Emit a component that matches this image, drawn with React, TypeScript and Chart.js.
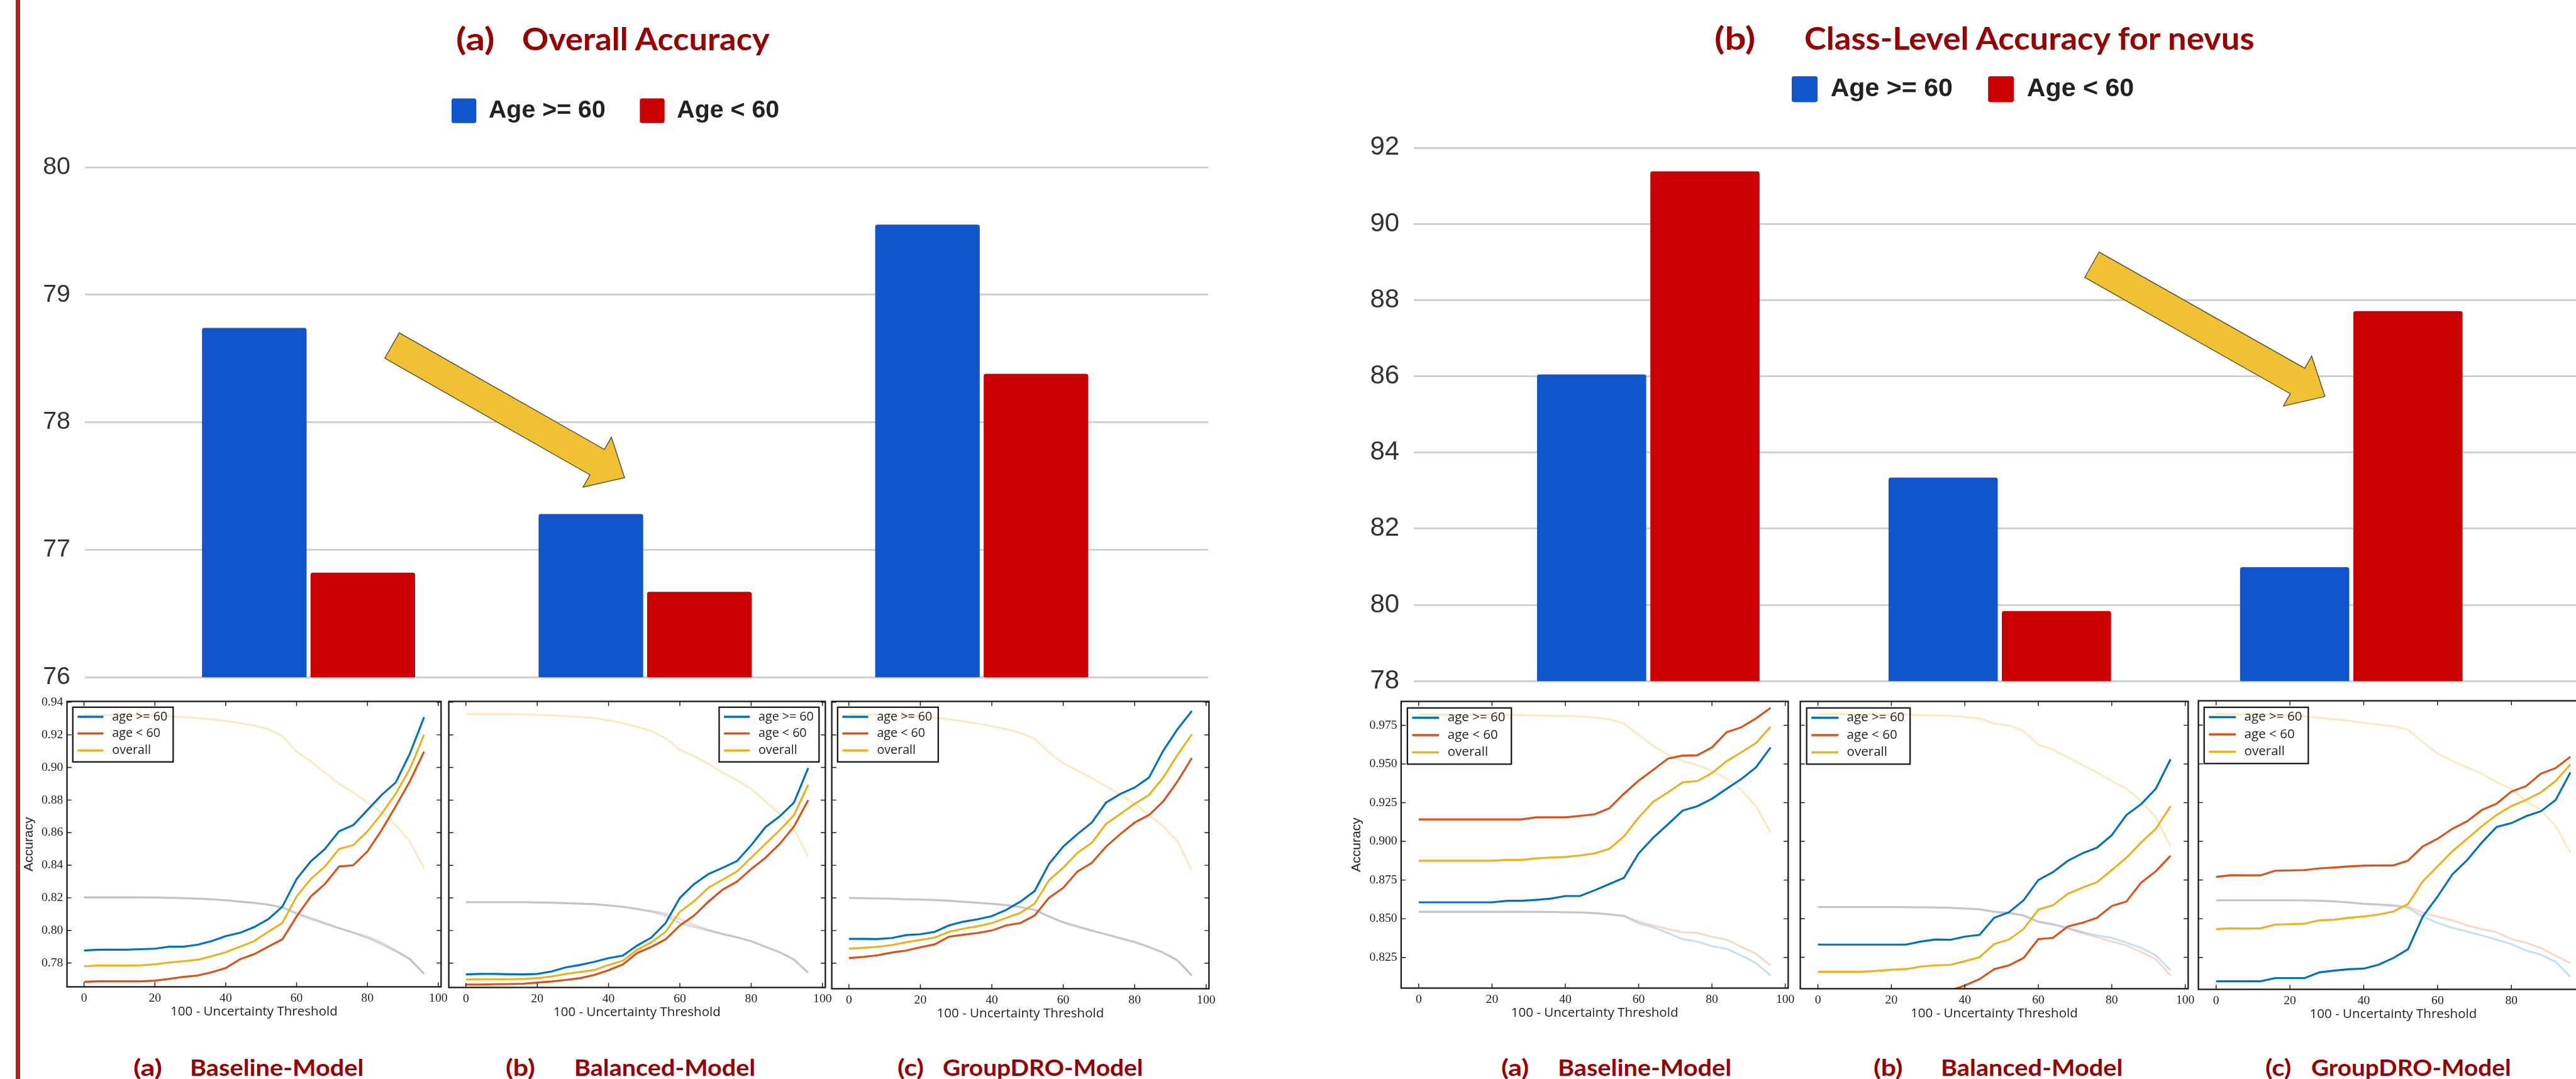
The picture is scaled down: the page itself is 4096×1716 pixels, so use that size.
import React, { useEffect, useLayoutEffect, useRef } from 'react';
import { Chart, registerables } from 'chart.js';

Chart.register(...registerables);

// reference (4582 wide) -> window (4096 wide)
const S = 4096 / 4582;
const s = (v: number) => v * S;

// ---------------- bar chart data ----------------
const modelNames = ['Baseline-Model', 'Balanced-Model', 'GroupDRO-Model'];
const modelX = [1, 2, 3];
const groupLabels = ['Age >= 60', 'Age < 60'];
const overallAgeOld = [78.74, 77.28, 79.55];
const overallAgeYoung = [76.82, 76.67, 78.38];
const nevusAgeOld = [86.05, 83.34, 80.99];
const nevusAgeYoung = [91.38, 79.84, 87.71];
// annotation arrows (data units: [x, y] tail, [x, y] tip)
const overallArrow = [[1.248, 78.602], [1.939, 77.565]];
const nevusArrow = [[2.262, 88.928], [2.925, 85.469]];

// ---------------- inset line chart data ----------------
const lineLabels = ['age >= 60', 'age < 60', 'overall'];
const xAxisTitle = '100 - Uncertainty Threshold';
const thresholds = [0, 4, 8, 12, 16, 20, 24, 28, 32, 36, 40, 44, 48, 52, 56, 60, 64, 68, 72, 76, 80, 84, 88, 92, 96];
const xTickValues = [0, 20, 40, 60, 80, 100];
const overallTickValues = [0.78, 0.80, 0.82, 0.84, 0.86, 0.88, 0.90, 0.92, 0.94];
const nevusTickValues = [0.825, 0.85, 0.875, 0.9, 0.925, 0.95, 0.975];

// Overall accuracy insets
const ovBaseOld = [0.7877, 0.7882, 0.7882, 0.7882, 0.7885, 0.7888, 0.7900, 0.7900, 0.7912, 0.7934, 0.7965, 0.7985, 0.8020, 0.8069, 0.8146, 0.8315, 0.8423, 0.8500, 0.8608, 0.8646, 0.8738, 0.8831, 0.8908, 0.9085, 0.9308];
const ovBaseYoung = [0.7685, 0.7688, 0.7688, 0.7688, 0.7688, 0.7692, 0.7703, 0.7715, 0.7723, 0.7743, 0.7769, 0.7823, 0.7854, 0.7900, 0.7946, 0.8085, 0.8208, 0.8285, 0.8392, 0.8400, 0.8485, 0.8615, 0.8762, 0.8915, 0.9097];
const ovBaseAll = [0.7780, 0.7785, 0.7785, 0.7785, 0.7786, 0.7792, 0.7803, 0.7811, 0.7820, 0.7842, 0.7866, 0.7900, 0.7934, 0.7992, 0.8046, 0.8208, 0.8315, 0.8392, 0.8500, 0.8523, 0.8608, 0.8715, 0.8838, 0.8992, 0.9200];
const ovBaseAllFade = [0.9323, 0.9323, 0.9322, 0.9322, 0.9320, 0.9318, 0.9315, 0.9309, 0.9303, 0.9295, 0.9285, 0.9272, 0.9257, 0.9235, 0.9192, 0.9097, 0.9038, 0.8969, 0.8900, 0.8846, 0.8785, 0.8723, 0.8646, 0.8546, 0.8380];
const ovBaseOldFade = [0.8203, 0.8203, 0.8203, 0.8203, 0.8203, 0.8202, 0.8200, 0.8198, 0.8195, 0.8191, 0.8185, 0.8177, 0.8169, 0.8158, 0.8143, 0.8108, 0.8077, 0.8046, 0.8015, 0.7985, 0.7954, 0.7915, 0.7872, 0.7823, 0.7734];
const ovBaseYoungFade = [0.8203, 0.8203, 0.8203, 0.8203, 0.8203, 0.8202, 0.8200, 0.8198, 0.8195, 0.8191, 0.8185, 0.8177, 0.8169, 0.8158, 0.8140, 0.8100, 0.8068, 0.8040, 0.8012, 0.7988, 0.7962, 0.7925, 0.7878, 0.7826, 0.7734];

const ovBalOld = [0.7731, 0.7734, 0.7734, 0.7732, 0.7731, 0.7734, 0.7749, 0.7774, 0.7789, 0.7808, 0.7831, 0.7846, 0.7908, 0.7957, 0.8046, 0.8200, 0.8285, 0.8346, 0.8385, 0.8426, 0.8523, 0.8634, 0.8700, 0.8785, 0.8997];
const ovBalYoung = [0.7669, 0.7669, 0.7671, 0.7672, 0.7674, 0.7681, 0.7688, 0.7697, 0.7708, 0.7728, 0.7757, 0.7792, 0.7862, 0.7900, 0.7946, 0.8031, 0.8092, 0.8177, 0.8251, 0.8300, 0.8377, 0.8446, 0.8531, 0.8638, 0.8800];
const ovBalAll = [0.7700, 0.7702, 0.7702, 0.7702, 0.7703, 0.7708, 0.7718, 0.7734, 0.7746, 0.7758, 0.7789, 0.7815, 0.7882, 0.7928, 0.7992, 0.8115, 0.8180, 0.8262, 0.8312, 0.8362, 0.8446, 0.8531, 0.8615, 0.8708, 0.8895];
const ovBalAllFade = [0.9328, 0.9328, 0.9328, 0.9328, 0.9326, 0.9323, 0.9320, 0.9315, 0.9309, 0.9303, 0.9289, 0.9272, 0.9249, 0.9223, 0.9180, 0.9108, 0.9069, 0.9023, 0.8969, 0.8923, 0.8869, 0.8792, 0.8715, 0.8623, 0.8454];
const ovBalOldFade = [0.8174, 0.8174, 0.8174, 0.8174, 0.8174, 0.8172, 0.8171, 0.8168, 0.8165, 0.8162, 0.8154, 0.8145, 0.8131, 0.8115, 0.8092, 0.8046, 0.8023, 0.8000, 0.7977, 0.7958, 0.7934, 0.7900, 0.7866, 0.7820, 0.7738];
const ovBalYoungFade = [0.8174, 0.8174, 0.8174, 0.8174, 0.8174, 0.8172, 0.8171, 0.8168, 0.8165, 0.8162, 0.8154, 0.8146, 0.8134, 0.8120, 0.8105, 0.8070, 0.8035, 0.8005, 0.7980, 0.7960, 0.7935, 0.7902, 0.7868, 0.7825, 0.7745];

const ovDroOld = [0.7949, 0.7949, 0.7948, 0.7954, 0.7972, 0.7977, 0.7992, 0.8031, 0.8054, 0.8069, 0.8088, 0.8126, 0.8177, 0.8242, 0.8408, 0.8515, 0.8592, 0.8662, 0.8785, 0.8838, 0.8877, 0.8938, 0.9103, 0.9235, 0.9346];
const ovDroYoung = [0.7831, 0.7838, 0.7848, 0.7865, 0.7877, 0.7897, 0.7915, 0.7962, 0.7974, 0.7985, 0.8000, 0.8031, 0.8046, 0.8092, 0.8200, 0.8262, 0.8362, 0.8415, 0.8515, 0.8592, 0.8662, 0.8708, 0.8792, 0.8915, 0.9058];
const ovDroAll = [0.7889, 0.7894, 0.7900, 0.7911, 0.7928, 0.7942, 0.7957, 0.7992, 0.8011, 0.8026, 0.8046, 0.8077, 0.8108, 0.8165, 0.8308, 0.8385, 0.8477, 0.8538, 0.8654, 0.8715, 0.8777, 0.8831, 0.8938, 0.9077, 0.9203];
const ovDroAllFade = [0.9326, 0.9326, 0.9325, 0.9322, 0.9318, 0.9314, 0.9306, 0.9295, 0.9283, 0.9269, 0.9254, 0.9235, 0.9211, 0.9177, 0.9092, 0.9026, 0.8980, 0.8934, 0.8885, 0.8831, 0.8777, 0.8708, 0.8638, 0.8546, 0.8369];
const ovDroOldFade = [0.8200, 0.8198, 0.8197, 0.8195, 0.8192, 0.8191, 0.8188, 0.8183, 0.8177, 0.8171, 0.8165, 0.8157, 0.8146, 0.8128, 0.8085, 0.8051, 0.8026, 0.8000, 0.7977, 0.7954, 0.7931, 0.7900, 0.7866, 0.7815, 0.7723];
const ovDroYoungFade = [0.8200, 0.8198, 0.8196, 0.8194, 0.8191, 0.8189, 0.8186, 0.8181, 0.8175, 0.8169, 0.8163, 0.8154, 0.8142, 0.8125, 0.8088, 0.8048, 0.8022, 0.7998, 0.7975, 0.7950, 0.7928, 0.7897, 0.7862, 0.7818, 0.7725];

// Nevus class-level insets
const nvBaseOld = [0.8606, 0.8606, 0.8606, 0.8606, 0.8606, 0.8606, 0.8616, 0.8616, 0.8622, 0.8630, 0.8647, 0.8647, 0.8684, 0.8724, 0.8765, 0.8922, 0.9024, 0.9110, 0.9199, 0.9227, 0.9275, 0.9340, 0.9402, 0.9478, 0.9607];
const nvBaseYoung = [0.9142, 0.9142, 0.9142, 0.9142, 0.9142, 0.9142, 0.9142, 0.9142, 0.9155, 0.9155, 0.9155, 0.9165, 0.9175, 0.9214, 0.9308, 0.9392, 0.9462, 0.9535, 0.9554, 0.9556, 0.9607, 0.9705, 0.9737, 0.9794, 0.9862];
const nvBaseAll = [0.8875, 0.8875, 0.8875, 0.8875, 0.8875, 0.8875, 0.8880, 0.8880, 0.8890, 0.8895, 0.8899, 0.8909, 0.8922, 0.8951, 0.9032, 0.9154, 0.9256, 0.9316, 0.9381, 0.9389, 0.9441, 0.9518, 0.9575, 0.9635, 0.9740];
const nvBaseAllFade = [0.9818, 0.9818, 0.9818, 0.9818, 0.9818, 0.9818, 0.9817, 0.9816, 0.9813, 0.9810, 0.9810, 0.9807, 0.9800, 0.9789, 0.9761, 0.9688, 0.9616, 0.9559, 0.9518, 0.9494, 0.9454, 0.9405, 0.9332, 0.9227, 0.9057];
const nvBaseOldFade = [0.8545, 0.8545, 0.8545, 0.8545, 0.8545, 0.8545, 0.8545, 0.8545, 0.8544, 0.8543, 0.8540, 0.8539, 0.8535, 0.8527, 0.8517, 0.8470, 0.8445, 0.8408, 0.8368, 0.8352, 0.8323, 0.8306, 0.8263, 0.8214, 0.8133];
const nvBaseYoungFade = [0.8545, 0.8545, 0.8545, 0.8545, 0.8545, 0.8545, 0.8545, 0.8545, 0.8545, 0.8545, 0.8545, 0.8542, 0.8538, 0.8530, 0.8520, 0.8481, 0.8457, 0.8433, 0.8413, 0.8408, 0.8384, 0.8365, 0.8319, 0.8274, 0.8198];

const nvBalOld = [0.8332, 0.8332, 0.8332, 0.8332, 0.8332, 0.8332, 0.8332, 0.8352, 0.8365, 0.8363, 0.8384, 0.8395, 0.8506, 0.8541, 0.8619, 0.8749, 0.8801, 0.8873, 0.8922, 0.8959, 0.9040, 0.9170, 0.9240, 0.9340, 0.9530];
const nvBalYoung = [null, null, null, null, null, null, null, null, null, 0.8035, 0.8068, 0.8109, 0.8174, 0.8198, 0.8246, 0.8368, 0.8376, 0.8449, 0.8473, 0.8506, 0.8582, 0.8611, 0.8733, 0.8806, 0.8907];
const nvBalAll = [0.8157, 0.8157, 0.8157, 0.8157, 0.8162, 0.8170, 0.8174, 0.8190, 0.8198, 0.8201, 0.8225, 0.8251, 0.8336, 0.8365, 0.8433, 0.8558, 0.8587, 0.8660, 0.8700, 0.8736, 0.8814, 0.8894, 0.8992, 0.9081, 0.9227];
const nvBalAllFade = [0.9823, 0.9823, 0.9822, 0.9821, 0.9820, 0.9819, 0.9818, 0.9815, 0.9813, 0.9810, 0.9803, 0.9794, 0.9761, 0.9748, 0.9713, 0.9624, 0.9591, 0.9543, 0.9494, 0.9445, 0.9389, 0.9340, 0.9259, 0.9154, 0.8967];
const nvBalOldFade = [0.8575, 0.8575, 0.8575, 0.8575, 0.8575, 0.8575, 0.8574, 0.8573, 0.8572, 0.8570, 0.8566, 0.8562, 0.8546, 0.8538, 0.8522, 0.8481, 0.8465, 0.8441, 0.8413, 0.8392, 0.8376, 0.8344, 0.8311, 0.8263, 0.8165];
const nvBalYoungFade = [0.8575, 0.8575, 0.8575, 0.8575, 0.8575, 0.8575, 0.8574, 0.8573, 0.8572, 0.8570, 0.8565, 0.8558, 0.8543, 0.8535, 0.8518, 0.8478, 0.8460, 0.8436, 0.8405, 0.8380, 0.8352, 0.8327, 0.8284, 0.8238, 0.8133];

const nvDroOld = [0.8096, 0.8096, 0.8096, 0.8096, 0.8117, 0.8117, 0.8117, 0.8154, 0.8165, 0.8174, 0.8178, 0.8203, 0.8246, 0.8303, 0.8514, 0.8643, 0.8786, 0.8878, 0.8992, 0.9092, 0.9117, 0.9162, 0.9194, 0.9267, 0.9445];
const nvDroYoung = [0.8770, 0.8781, 0.8780, 0.8780, 0.8810, 0.8812, 0.8814, 0.8825, 0.8831, 0.8838, 0.8843, 0.8844, 0.8844, 0.8875, 0.8967, 0.9016, 0.9081, 0.9129, 0.9202, 0.9243, 0.9321, 0.9356, 0.9437, 0.9473, 0.9546];
const nvDroAll = [0.8433, 0.8438, 0.8436, 0.8438, 0.8462, 0.8465, 0.8468, 0.8490, 0.8494, 0.8506, 0.8514, 0.8527, 0.8546, 0.8595, 0.8741, 0.8838, 0.8935, 0.9016, 0.9097, 0.9170, 0.9227, 0.9267, 0.9316, 0.9389, 0.9497];
const nvDroAllFade = [0.9823, 0.9822, 0.9820, 0.9818, 0.9816, 0.9813, 0.9807, 0.9797, 0.9787, 0.9778, 0.9765, 0.9753, 0.9742, 0.9721, 0.9640, 0.9567, 0.9518, 0.9478, 0.9437, 0.9381, 0.9340, 0.9259, 0.9202, 0.9097, 0.8927];
const nvDroOldFade = [0.8619, 0.8619, 0.8619, 0.8619, 0.8619, 0.8619, 0.8618, 0.8616, 0.8612, 0.8605, 0.8595, 0.8590, 0.8582, 0.8570, 0.8514, 0.8473, 0.8441, 0.8417, 0.8392, 0.8365, 0.8336, 0.8295, 0.8268, 0.8222, 0.8125];
const nvDroYoungFade = [0.8619, 0.8619, 0.8619, 0.8619, 0.8619, 0.8619, 0.8618, 0.8616, 0.8612, 0.8605, 0.8598, 0.8594, 0.8588, 0.8578, 0.8538, 0.8514, 0.8490, 0.8457, 0.8433, 0.8413, 0.8368, 0.8345, 0.8311, 0.8260, 0.8214];

// ---------------- text ----------------
const panelTitles = [
  { tag: '(a)', text: 'Overall Accuracy' },
  { tag: '(b)', text: 'Class-Level Accuracy for nevus' },
];
const captionTags = ['(a)', '(b)', '(c)'];

// ---------------- styles ----------------
const BLUE = '#1155cc';
const RED = '#cc0000';
const M_BLUE = '#0072bd';
const M_ORANGE = '#d95319';
const M_YELLOW = '#edb120';
const F_BLUE = 'rgba(0,114,189,0.22)';
const F_ORANGE = 'rgba(217,83,25,0.22)';
const F_YELLOW = 'rgba(237,177,32,0.28)';
const TITLE_RED = '#990000';

// scales report no extra label overflow padding; layout.padding decides
const noScalePadding = (sc: any) => {
  sc.paddingTop = 0;
  sc.paddingBottom = 0;
  sc.paddingLeft = 0;
  sc.paddingRight = 0;
};

// ---------------- plugins ----------------
const arrowPlugin = {
  id: 'arrow',
  afterDatasetsDraw(chart: any, _a: any, o: any) {
    const { ctx } = chart;
    const xs = chart.scales.x;
    const ys = chart.scales.y;
    const x0 = xs.getPixelForValue(o.from[0]);
    const y0 = ys.getPixelForValue(o.from[1]);
    const x1 = xs.getPixelForValue(o.to[0]);
    const y1 = ys.getPixelForValue(o.to[1]);
    const len = Math.hypot(x1 - x0, y1 - y0);
    const ux = (x1 - x0) / len;
    const uy = (y1 - y0) / len;
    const nx = -uy;
    const ny = ux;
    const sw = s(26);
    const hw = s(51);
    const hl = s(56);
    const bx = x1 - ux * hl;
    const by = y1 - uy * hl;
    const pts = [
      [x0 + nx * sw, y0 + ny * sw],
      [bx + nx * sw, by + ny * sw],
      [bx + nx * hw, by + ny * hw],
      [x1, y1],
      [bx - nx * hw, by - ny * hw],
      [bx - nx * sw, by - ny * sw],
      [x0 - nx * sw, y0 - ny * sw],
    ];
    ctx.save();
    ctx.beginPath();
    pts.forEach((p, i) => (i === 0 ? ctx.moveTo(p[0], p[1]) : ctx.lineTo(p[0], p[1])));
    ctx.closePath();
    ctx.fillStyle = '#f0c132';
    ctx.fill();
    ctx.lineWidth = s(1.6);
    ctx.strokeStyle = '#5a5030';
    ctx.stroke();
    ctx.restore();
  },
};

const mplPlugin = {
  id: 'mpl',
  afterDatasetsDraw(chart: any, _a: any, o: any) {
    const { ctx, chartArea: a } = chart;
    const xs = chart.scales.x;
    const ys = chart.scales.y;
    const tl = s(8);
    ctx.save();
    ctx.strokeStyle = '#1a1a1a';
    ctx.lineWidth = s(1.6);
    ctx.beginPath();
    o.xTicks.forEach((v: number) => {
      const px = xs.getPixelForValue(v);
      ctx.moveTo(px, a.bottom);
      ctx.lineTo(px, a.bottom - tl);
      ctx.moveTo(px, a.top);
      ctx.lineTo(px, a.top + tl);
    });
    o.yTicks.forEach((v: number) => {
      const py = ys.getPixelForValue(v);
      ctx.moveTo(a.left, py);
      ctx.lineTo(a.left + tl, py);
      ctx.moveTo(a.right, py);
      ctx.lineTo(a.right - tl, py);
    });
    ctx.stroke();
    ctx.lineWidth = s(2.6);
    ctx.strokeRect(a.left, a.top, a.right - a.left, a.bottom - a.top);
    const L = o.legend;
    const bw = s(L.w);
    const bx = L.corner === 'left' ? a.left + s(L.dx) : a.right - s(L.dx) - bw;
    const by = a.top + s(L.dy);
    ctx.strokeRect(bx, by, bw, s(L.h));
    ctx.font = `${s(L.font)}px "Open Sans", sans-serif`;
    ctx.textBaseline = 'middle';
    ctx.textAlign = 'left';
    ctx.fillStyle = '#222';
    for (let i = 0; i < 3; i++) {
      const ds = chart.data.datasets[i];
      const ry = by + s(L.rows[i]);
      ctx.strokeStyle = ds.borderColor;
      ctx.lineWidth = s(4);
      ctx.beginPath();
      ctx.moveTo(bx + s(L.lx), ry);
      ctx.lineTo(bx + s(L.lx + L.ll), ry);
      ctx.stroke();
      ctx.fillText(ds.label, bx + s(L.tx), ry);
    }
    ctx.restore();
  },
};

// ---------------- chart configs ----------------
function barConfig(p: any) {
  const ds = (label: string, vals: number[], color: string) => ({
    label,
    data: modelX.map((x, i) => ({ x, y: vals[i] })),
    backgroundColor: color,
    borderColor: color,
    borderWidth: 0,
    borderRadius: s(4),
    borderSkipped: 'start',
    barPercentage: 0.9637,
    categoryPercentage: 0.6447,
  });
  return {
    type: 'bar',
    data: { datasets: [ds(groupLabels[0], p.old, BLUE), ds(groupLabels[1], p.young, RED)] },
    options: {
      responsive: false,
      animation: false,
      events: [],
      layout: { padding: { left: 0, right: s(p.padRight), top: 0, bottom: s(p.padBottom) } },
      plugins: {
        legend: {
          position: 'top',
          align: 'center',
          labels: {
            font: { family: '"Liberation Sans", Arial, sans-serif', size: s(p.legendFont), weight: 'bold' },
            color: '#222',
            boxWidth: s(p.legendFont),
            boxHeight: s(p.legendFont),
            padding: s(p.legendPad),
            useBorderRadius: true,
            borderRadius: s(4),
          },
        },
        tooltip: { enabled: false },
        arrow: { from: p.arrow[0], to: p.arrow[1] },
      },
      scales: {
        x: {
          type: 'linear',
          display: false,
          offset: false,
          min: p.xMin,
          max: p.xMax,
          ticks: { stepSize: 1, includeBounds: false },
        },
        y: {
          min: p.yMin,
          max: p.yMax,
          afterFit: (sc: any) => { sc.width = s(p.yWidth); noScalePadding(sc); },
          ticks: {
            stepSize: p.yStep,
            includeBounds: false,
            padding: s(p.tickPad),
            font: { family: '"Liberation Sans", Arial, sans-serif', size: s(p.tickFont) },
            color: '#333',
          },
          grid: { color: '#cccccc', lineWidth: s(3), drawTicks: false },
          border: { display: false },
        },
      },
    },
    plugins: [arrowPlugin],
  };
}

function insetConfig(p: any) {
  const pts = (arr: any[]) => arr.map((v, i) => ({ x: thresholds[i], y: v }));
  const line = (label: string, arr: any[], color: string) => ({
    label,
    data: pts(arr),
    borderColor: color,
    backgroundColor: color,
    borderWidth: s(3.5),
    pointRadius: 0,
    tension: 0,
    fill: false,
  });
  const frameL = p.frame[0];
  const yWidth = p.showY ? frameL - p.canvasLeft : 0;
  return {
    type: 'line',
    data: {
      datasets: [
        line(lineLabels[0], p.old, M_BLUE),
        line(lineLabels[1], p.young, M_ORANGE),
        line(lineLabels[2], p.all, M_YELLOW),
        line('overall (retained)', p.allFade, F_YELLOW),
        line('age >= 60 (retained)', p.oldFade, F_BLUE),
        line('age < 60 (retained)', p.youngFade, F_ORANGE),
      ],
    },
    options: {
      responsive: false,
      animation: false,
      events: [],
      layout: { padding: { left: s(frameL - p.canvasLeft - yWidth), right: s(22), top: s(14), bottom: 0 } },
      plugins: {
        legend: { display: false },
        tooltip: { enabled: false },
        mpl: { xTicks: xTickValues, yTicks: p.yTicks, legend: p.legend },
      },
      scales: {
        x: {
          type: 'linear',
          min: -4.8,
          max: 100.8,
          afterFit: (sc: any) => { sc.height = s(70); noScalePadding(sc); },
          grid: { display: false, drawTicks: false },
          border: { display: false },
          ticks: {
            stepSize: 20,
            includeBounds: false,
            autoSkip: false,
            maxRotation: 0,
            padding: s(7),
            font: { family: '"Liberation Serif", "DejaVu Serif", serif', size: s(22) },
            color: '#222',
          },
          title: {
            display: true,
            text: xAxisTitle,
            font: { family: '"Open Sans", sans-serif', size: s(23) },
            color: '#222',
            padding: { top: 0, bottom: s(12) },
          },
        },
        y: {
          min: p.yRange[0],
          max: p.yRange[1],
          afterFit: (sc: any) => { sc.width = s(yWidth); noScalePadding(sc); },
          grid: { display: false, drawTicks: false },
          border: { display: false },
          ticks: {
            display: p.showY,
            stepSize: p.yStep,
            includeBounds: false,
            padding: s(7),
            callback: (v: any) => Number(v).toFixed(p.dec),
            font: { family: '"Liberation Serif", "DejaVu Serif", serif', size: s(22) },
            color: '#222',
          },
          title: {
            display: p.showY,
            text: 'Accuracy',
            font: { family: '"Liberation Sans", Arial, sans-serif', size: s(23.5) },
            color: '#222',
            padding: { top: s(p.titlePad || 0), bottom: 0 },
          },
        },
      },
    },
    plugins: [mplPlugin],
  };
}

// ---------------- layout specs ----------------
const barPanels = [
  {
    box: { left: 40, top: 114, width: 2120, height: 1119 },
    old: overallAgeOld, young: overallAgeYoung, arrow: overallArrow,
    padRight: 11, padBottom: 28, yWidth: 111, legendFont: 44, legendPad: 61, tickFont: 44, tickPad: 26,
    xMin: 0.336, xMax: 3.673, yMin: 76, yMax: 80.297, yStep: 1,
  },
  {
    box: { left: 2382.5, top: 72.5, width: 2227.5, height: 1169 },
    old: nevusAgeOld, young: nevusAgeYoung, arrow: nevusArrow,
    padRight: 10, padBottom: 30, yWidth: 131.5, legendFont: 46, legendPad: 63, tickFont: 47, tickPad: 25,
    xMin: 0.332, xMax: 3.668, yMin: 78, yMax: 93.03, yStep: 2,
  },
];

const legL = (dx: number, w: number) => ({ corner: 'left', dx, dy: 10.3, w, h: 97.3, rows: [17, 46.8, 77], lx: 8.5, ll: 46, tx: 70, font: 22 });
const legR = (dx: number, w: number) => ({ corner: 'right', dx, dy: 10.3, w, h: 97.3, rows: [17, 46.8, 77], lx: 8.5, ll: 46, tx: 70, font: 22 });
const legN = (dx: number, w: number) => ({ corner: 'left', dx, dy: 11.6, w, h: 100, rows: [17.4, 48.2, 79], lx: 8.5, ll: 48, tx: 71.5, font: 23 });

const insets = [
  { frame: [119, 1247.7, 784, 1755.7], canvasLeft: 30, showY: true, titlePad: 7.9, yRange: [0.7654, 0.9405], yStep: 0.02, dec: 2, yTicks: overallTickValues, legend: legL(10.3, 178.5),
    old: ovBaseOld, young: ovBaseYoung, all: ovBaseAll, allFade: ovBaseAllFade, oldFade: ovBaseOldFade, youngFade: ovBaseYoungFade },
  { frame: [798, 1247.7, 1467.5, 1756.6], canvasLeft: 794, showY: false, yRange: [0.7651, 0.9405], yStep: 0.02, dec: 2, yTicks: overallTickValues, legend: legR(11.2, 177.7),
    old: ovBalOld, young: ovBalYoung, all: ovBalAll, allFade: ovBalAllFade, oldFade: ovBalOldFade, youngFade: ovBalYoungFade },
  { frame: [1479.6, 1247.7, 2150.6, 1758.8], canvasLeft: 1475.6, showY: false, yRange: [0.7643, 0.9405], yStep: 0.02, dec: 2, yTicks: overallTickValues, legend: legL(10.4, 179),
    old: ovDroOld, young: ovDroYoung, all: ovDroAll, allFade: ovDroAllFade, oldFade: ovDroOldFade, youngFade: ovDroYoungFade },
  { frame: [2492.2, 1247.7, 3181, 1758], canvasLeft: 2395, showY: true, titlePad: 3.5, yRange: [0.8052, 0.9904], yStep: 0.025, dec: 3, yTicks: nevusTickValues, legend: legN(11.1, 185),
    old: nvBaseOld, young: nvBaseYoung, all: nvBaseAll, allFade: nvBaseAllFade, oldFade: nvBaseOldFade, youngFade: nvBaseYoungFade },
  { frame: [3202.2, 1247.7, 3891.9, 1759], canvasLeft: 3198.2, showY: false, yRange: [0.8047, 0.9904], yStep: 0.025, dec: 3, yTicks: nevusTickValues, legend: legN(11.3, 184),
    old: nvBalOld, young: nvBalYoung, all: nvBalAll, allFade: nvBalAllFade, oldFade: nvBalOldFade, youngFade: nvBalYoungFade },
  { frame: [3910.7, 1246.8, 4604, 1760], canvasLeft: 3906.7, showY: false, yRange: [0.8044, 0.9907], yStep: 0.025, dec: 3, yTicks: nevusTickValues, legend: legN(10.2, 185.3),
    old: nvDroOld, young: nvDroYoung, all: nvDroAll, allFade: nvDroAllFade, oldFade: nvDroOldFade, youngFade: nvDroYoungFade },
];

const titleTexts = [
  { text: panelTitles[0].tag, x: 811, w: 69, base: 90 },
  { text: panelTitles[0].text, x: 928.6, w: 440.2, base: 90 },
  { text: panelTitles[1].tag, x: 3049.5, w: 72.8, base: 89 },
  { text: panelTitles[1].text, x: 3209.6, w: 800.5, base: 89 },
];
const captionTexts = [
  { text: captionTags[0], x: 237.3, w: 51.4 }, { text: modelNames[0], x: 337.8, w: 309.2 },
  { text: captionTags[1], x: 899.6, w: 52.3 }, { text: modelNames[1], x: 1021, w: 322.4 },
  { text: captionTags[2], x: 1596, w: 47 }, { text: modelNames[2], x: 1677.4, w: 356.2 },
  { text: captionTags[0], x: 2670.5, w: 49.5 }, { text: modelNames[0], x: 2771.3, w: 308.8 },
  { text: captionTags[1], x: 3332.6, w: 52.1 }, { text: modelNames[1], x: 3452.6, w: 323.8 },
  { text: captionTags[2], x: 4029, w: 46.3 }, { text: modelNames[2], x: 4110.7, w: 355.2 },
];

// ---------------- components ----------------
function ChartBox({ left, top, width, height, make }: any) {
  const ref = useRef<HTMLCanvasElement>(null);
  const L = Math.round(s(left));
  const T = Math.round(s(top));
  const W = Math.round(s(width));
  const H = Math.round(s(height));
  useEffect(() => {
    const chart = new Chart(ref.current as HTMLCanvasElement, make() as any);
    return () => chart.destroy();
  }, []);
  return (
    <canvas
      ref={ref}
      width={W}
      height={H}
      style={{ position: 'absolute', left: L, top: T, width: W, height: H }}
    />
  );
}

function FitText({ text, x, w, base, size }: any) {
  const ref = useRef<HTMLDivElement>(null);
  useLayoutEffect(() => {
    const fit = () => {
      const el = ref.current;
      if (!el) return;
      el.style.transform = 'none';
      const natural = el.getBoundingClientRect().width;
      if (natural > 0) el.style.transform = `scaleX(${s(w) / natural})`;
    };
    fit();
    if ((document as any).fonts && (document as any).fonts.ready) (document as any).fonts.ready.then(fit);
  }, [text, w]);
  return (
    <div
      ref={ref}
      style={{
        position: 'absolute',
        left: s(x),
        top: s(base - 0.887 * size),
        fontFamily: 'Lato, "Open Sans", sans-serif',
        fontWeight: 700,
        fontSize: s(size),
        lineHeight: `${s(size)}px`,
        color: TITLE_RED,
        whiteSpace: 'pre',
        transformOrigin: '0 0',
      }}
    >
      {text}
    </div>
  );
}

export default function App() {
  useEffect(() => {
    document.body.style.margin = '0';
    document.body.style.overflow = 'hidden';
  }, []);
  return (
    <div style={{ position: 'fixed', left: 0, top: 0, width: 4096, height: 1716, overflow: 'hidden', background: '#ffffff' }}>
      <div style={{ position: 'absolute', left: s(28), top: 0, width: s(8), height: 1716, background: '#b02418' }} />
      {barPanels.map((p, i) => (
        <ChartBox key={'bar' + i} {...p.box} make={() => barConfig(p)} />
      ))}
      {insets.map((p, i) => {
        const [fl, ft, fr, fb] = p.frame;
        const top = ft - 14;
        return (
          <ChartBox
            key={'inset' + i}
            left={p.canvasLeft}
            top={top}
            width={fr + 22 - p.canvasLeft}
            height={fb + 70 - top}
            make={() => insetConfig(p)}
          />
        );
      })}
      {titleTexts.map((t, i) => (
        <FitText key={'t' + i} text={t.text} x={t.x} w={t.w} base={t.base} size={56.6} />
      ))}
      {captionTexts.map((t, i) => (
        <FitText key={'c' + i} text={t.text} x={t.x} w={t.w} base={1915} size={41} />
      ))}
    </div>
  );
}
